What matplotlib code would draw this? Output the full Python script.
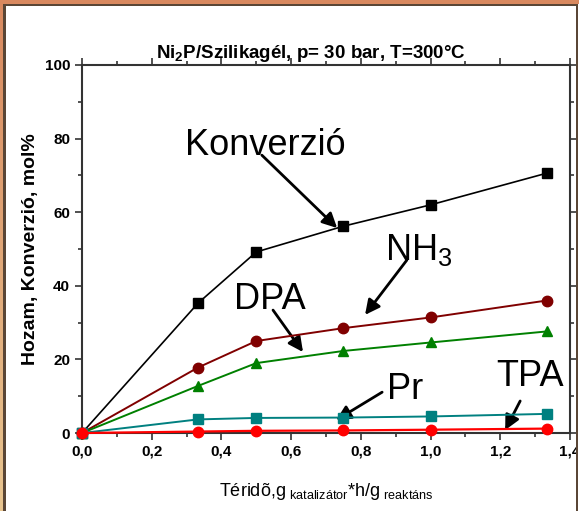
import matplotlib
matplotlib.use('Agg')
import matplotlib.pyplot as plt
import numpy as np
from matplotlib.patches import Rectangle

plt.rcParams['font.family'] = ['Liberation Sans', 'DejaVu Sans']

# residence time, g_cat*h/g_reactant
t = [0, 0.333, 0.5, 0.75, 1.0, 1.333]

konverzio = [0, 35.3, 49.2, 56.2, 62.0, 70.6]
nh3 = [0, 17.8, 25.0, 28.5, 31.4, 36.0]
dpa = [0, 12.8, 19.0, 22.3, 24.6, 27.6]
pr = [0, 3.7, 4.1, 4.2, 4.5, 5.2]
tpa = [0, 0.4, 0.6, 0.7, 0.9, 1.2]

xticks = [0, 0.2, 0.4, 0.6, 0.8, 1.0, 1.2, 1.4]
xlabels = ['0,0', '0,2', '0,4', '0,6', '0,8', '1,0', '1,2', '1,4']
yticks = [0, 20, 40, 60, 80, 100]

fig = plt.figure(figsize=(5.79, 5.11), dpi=100)
ax = fig.add_axes([0.1416, 0.1526, 0.8429, 0.7202])

ax.plot(t, konverzio, color='black', lw=1.2, marker='s', ms=6.5, clip_on=False, zorder=5)
ax.plot(t, nh3, color='#800000', lw=1.4, marker='o', ms=7.5, clip_on=False, zorder=5)
ax.plot(t, dpa, color='#008000', lw=1.4, marker='^', ms=7.5, clip_on=False, zorder=5)
ax.plot(t, pr, color='#008080', lw=1.4, marker='s', ms=6.5, clip_on=False, zorder=5)
ax.plot(t, tpa, color='#ff0000', lw=1.6, marker='o', ms=7.5, clip_on=False, zorder=6)

ax.set_xlim(0, 1.4)
ax.set_ylim(0, 100)
ax.set_xticks(xticks)
ax.set_xticklabels(xlabels, fontweight='bold', fontsize=11)
ax.set_yticks(yticks)
ax.set_yticklabels([str(v) for v in yticks], fontweight='bold', fontsize=11)
ax.set_xticks(np.arange(0.1, 1.4, 0.2), minor=True)
ax.set_yticks(np.arange(10, 100, 20), minor=True)
ax.tick_params(which='both', direction='out', top=True, right=True, width=1.2, color='#333333')
ax.tick_params(which='major', length=5)
ax.tick_params(which='minor', length=3)
for s in ax.spines.values():
    s.set_linewidth(1.5)
    s.set_color('#333333')

ax.set_title(r'Ni$_\mathregular{2}$P/Szilikagél, p= 30 bar, T=300°C',
             fontweight='bold', fontsize=13.5, x=0.47, pad=5)
ax.set_ylabel('Hozam, Konverzió, mol%', fontweight='bold', fontsize=14, labelpad=4)
ax.set_xlabel(r'Téridõ,g$_{\ \mathregular{katalizátor}}$*h/g$_{\ \mathregular{reaktáns}}$',
              fontsize=13, labelpad=16)

# labels with arrows pointing at the curves
arrow = dict(arrowstyle='-|>', color='black', lw=2, mutation_scale=22, shrinkA=0, shrinkB=0)
big = dict(fontsize=26, ha='left', va='baseline')
ax.text(0.295, 75.5, 'Konverzió', **big)
ax.annotate('', xy=(0.732, 55.7), xytext=(0.516, 75.5), arrowprops=arrow)
ax.text(0.869, 47.0, r'NH$_\mathregular{3}$', **big)
ax.annotate('', xy=(0.812, 32.1), xytext=(0.932, 47.0), arrowprops=arrow)
ax.text(0.436, 33.7, 'DPA', **big)
ax.annotate('', xy=(0.634, 22.0), xytext=(0.548, 33.4), arrowprops=arrow)
ax.text(0.875, 9.2, 'Pr', **big)
ax.annotate('', xy=(0.729, 3.5), xytext=(0.861, 11.1), arrowprops=arrow)
ax.text(1.188, 12.8, 'TPA', **big)
ax.annotate('', xy=(1.214, 0.8), xytext=(1.257, 8.7), arrowprops=arrow)

# frame around the slide
W, H = 579, 511
def px_rect(x, y, w, h, color, z=20):
    fig.patches.append(Rectangle((x / W, 1 - (y + h) / H), w / W, h / H,
                                 transform=fig.transFigure, color=color, lw=0, zorder=z))

grad = fig.add_axes([0, 0, 3 / W, 1], zorder=20)
grad.imshow(np.linspace(0, 1, 256).reshape(-1, 1), aspect='auto',
            cmap=matplotlib.colors.LinearSegmentedColormap.from_list('fr', ['#d9895f', '#e8c590']))
grad.axis('off')
px_rect(0, 0, W, 4, '#d9895f')
px_rect(3, 4, W - 3, 2, '#5a4636')
px_rect(3, 4, 3, H - 4, '#5a4636')
px_rect(576, 4, 2, H - 4, '#5a4636')
px_rect(578, 4, 1, H - 4, '#ffffff')

fig.savefig('out.png', dpi=100)
